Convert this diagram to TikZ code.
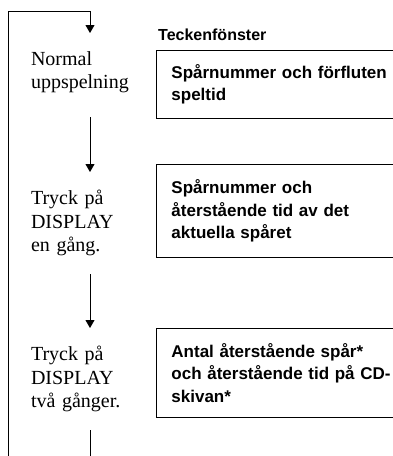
\documentclass[tikz,border=0pt]{standalone}
\usepackage{fontspec}
\setmainfont{Liberation Serif}
\setsansfont{Liberation Sans}
\usetikzlibrary{arrows.meta}

\begin{document}
\begin{tikzpicture}[x=1pt,y=-1pt,
	stepnode/.style={text width=118pt, align=left, inner xsep=0pt, inner ysep=18pt,
		anchor=north, font=\fontsize{20}{23.5}\selectfont},
	screenbox/.style={draw, line width=0.9pt, anchor=north west, text width=260pt,
		align=left, inner xsep=15pt, inner ysep=0pt,
		font=\sffamily\bfseries\fontsize{17}{22.5}\selectfont},
	flow/.style={line width=0.8pt},
	flowarrow/.style={flow, -{Triangle[length=8pt,width=9pt]}}]
	\useasboundingbox (0,0) rectangle (393,456);
	% steps on the left
	\node[stepnode] (normal) at (90,33) {Normal\\uppspelning};
	\node[stepnode] (once) at (90,172) {Tryck på\\DISPLAY\\en gång.};
	\node[stepnode] (twice) at (90,328) {Tryck på\\DISPLAY\\två gånger.};
	\coordinate (loopbot) at (8,456);
	\coordinate (loopcorner) at (90,11);
	\coordinate (tail) at (90,456);
	\draw[flowarrow] (loopbot) |- (loopcorner) -- (normal);
	\draw[flowarrow, shorten <=6pt] (normal) -- (once);
	\draw[flowarrow] (once) -- (twice);
	\draw[flow] (twice) -- (tail);
	% display windows
	\node[anchor=base west, inner sep=0pt, font=\sffamily\bfseries\fontsize{16}{19}\selectfont]
		(title) at (158,40) {Teckenfönster};
	\node[screenbox, minimum height=68pt] (disp1) at (156,50)
		{Spårnummer och förfluten\\speltid};
	\node[screenbox, minimum height=93pt] (disp2) at (156,164)
		{Spårnummer och\\återstående tid av det\\aktuella spåret};
	\node[screenbox, minimum height=89pt] (disp3) at (156,328)
		{Antal återstående spår*\\och återstående tid på CD-\\skivan*};
\end{tikzpicture}
\end{document}
